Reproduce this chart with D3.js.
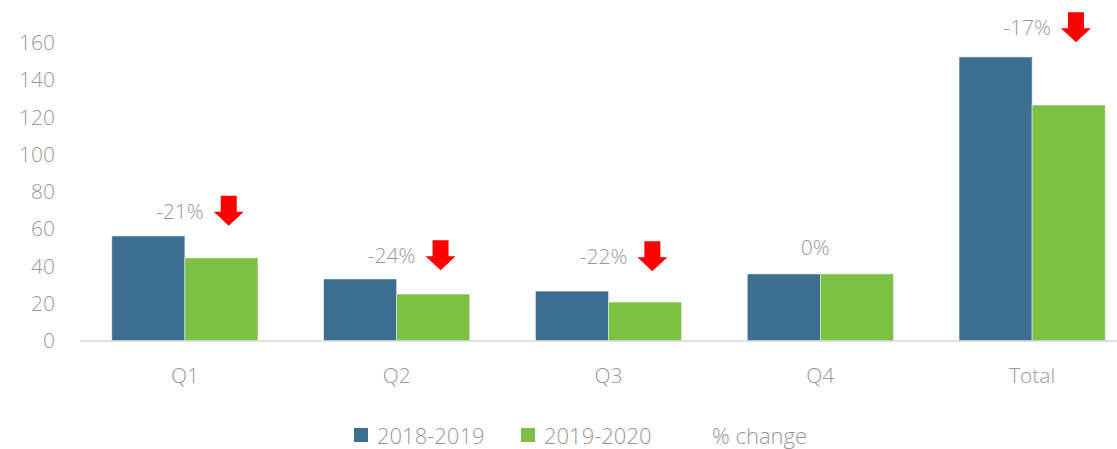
<!DOCTYPE html>
<html>
<head>
<meta charset="utf-8">
<script src="https://cdn.jsdelivr.net/npm/d3@7"></script>
<style>
  body { margin: 0; background: #fff; }
  text { font-family: "Open Sans", "Noto Sans", sans-serif; font-weight: 300; fill: #999999; }
</style>
</head>
<body>
<div id="chart"></div>
<script>
const categories = ["Q1", "Q2", "Q3", "Q4", "Total"];
const series = ["2018-2019", "2019-2020"];
const values2018 = [56.4, 33.3, 26.8, 36, 152.5];
const values2019 = [44.6, 25.2, 20.9, 36, 126.7];
const changeLabels = ["-21%", "-24%", "-22%", "0%", "-17%"];
// hidden "% change" series: where its labels sit on the value axis
const changePos = [70, 46, 45.5, 50.5, 168.5];
const yTicks = [0, 20, 40, 60, 80, 100, 120, 140, 160];

const width = 1117, height = 449;
const colors = ["#3b6e8f", "#7cc142"];

const svg = d3.select("#chart")
  .append("svg")
  .attr("width", width)
  .attr("height", height);

// x: category bands, then a sub-band per series
const x = d3.scaleBand()
  .domain(categories)
  .range([79, 1138])
  .paddingInner(0.31)
  .paddingOuter(0.155);

const xSub = d3.scaleBand()
  .domain(series)
  .range([0, x.bandwidth()]);

const y = d3.scaleLinear()
  .domain([0, 160])
  .range([341, 43]);

// y tick labels (no axis line)
const yAxis = svg.append("g")
  .attr("transform", "translate(55,0)")
  .call(d3.axisLeft(y).tickValues(yTicks).tickSize(0).tickPadding(0));
yAxis.select(".domain").remove();
yAxis.selectAll("text").style("font-size", "21px").attr("fill", null);

// bars
const rows = categories.map((c, i) => ({cat: c, vals: [values2018[i], values2019[i]]}));

svg.append("g")
  .selectAll("g")
  .data(rows)
  .join("g")
    .attr("transform", d => `translate(${x(d.cat)},0)`)
  .selectAll("rect")
  .data(d => d.vals.map((v, j) => ({key: series[j], value: v, j: j})))
  .join("rect")
    .attr("x", d => xSub(d.key))
    .attr("y", d => y(d.value))
    .attr("width", xSub.bandwidth())
    .attr("height", d => y(0) - y(d.value))
    .attr("fill", d => colors[d.j])
    .attr("stroke", "#e8eef2")
    .attr("stroke-width", 0.6);

// baseline
svg.append("line")
  .attr("x1", 80).attr("x2", width)
  .attr("y1", y(0)).attr("y2", y(0))
  .attr("stroke", "#d9d9d9")
  .attr("stroke-width", 1.5);

// x axis labels
const xAxis = svg.append("g")
  .attr("transform", `translate(0,${y(0)})`)
  .call(d3.axisBottom(x).tickSize(0).tickPadding(27));
xAxis.select(".domain").remove();
xAxis.selectAll("text").style("font-size", "21px").attr("fill", null);

// % change labels + red arrows
const labelG = svg.append("g");
categories.forEach((c, i) => {
  const cx = x(c) + x.bandwidth() / 2 - 5;
  const cy = y(changePos[i]);
  const t = labelG.append("text")
    .attr("x", cx)
    .attr("y", cy)
    .attr("text-anchor", "middle")
    .attr("dominant-baseline", "central")
    .style("font-size", "21px")
    .text(changeLabels[i]);
  if (changeLabels[i].startsWith("-")) {
    const bb = t.node().getBBox();
    const ax = bb.x + bb.width + 10;
    const ay = cy - 15;
    labelG.append("path")
      .attr("d", `M${ax + 7},${ay} h16 v16 h7 l-15,14 l-15,-14 h7 z`)
      .attr("fill", "#ff0000");
  }
});

// legend
const legend = svg.append("g").attr("transform", "translate(0,435)");
legend.append("rect").attr("x", 354).attr("y", -7).attr("width", 14).attr("height", 14).attr("fill", colors[0]);
legend.append("text").attr("x", 377).attr("y", 0).attr("dominant-baseline", "central").style("font-size", "22px").text(series[0]);
legend.append("rect").attr("x", 521).attr("y", -7).attr("width", 14).attr("height", 14).attr("fill", colors[1]);
legend.append("text").attr("x", 544).attr("y", 0).attr("dominant-baseline", "central").style("font-size", "22px").text(series[1]);
legend.append("text").attr("x", 712).attr("y", 0).attr("dominant-baseline", "central").style("font-size", "22px").text("% change");
</script>
</body>
</html>
